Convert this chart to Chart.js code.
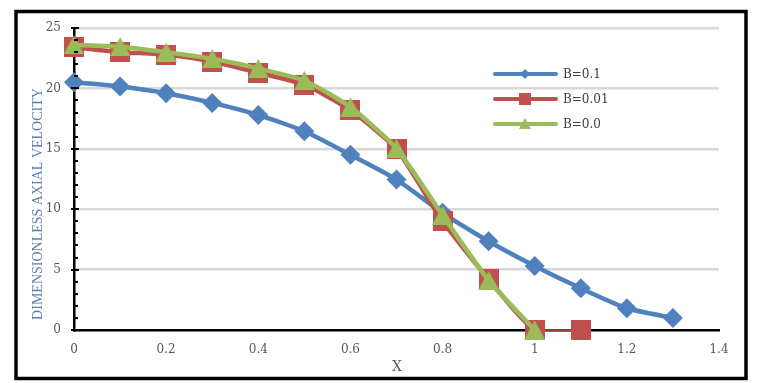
<!DOCTYPE html>
<html>
<head>
<meta charset="utf-8">
<script src="https://cdn.jsdelivr.net/npm/chart.js@4/dist/chart.umd.min.js"></script>
<style>
html,body{margin:0;padding:0;background:#fff;}
#wrap{width:760px;height:383px;position:relative;}
</style>
</head>
<body>
<div id="wrap"><canvas id="c" width="760" height="383"></canvas></div>
<script>
const xValues   = [0, 0.1, 0.2, 0.3, 0.4, 0.5, 0.6, 0.7, 0.8, 0.9, 1.0, 1.1, 1.2, 1.3];
const seriesB01  = [20.5, 20.15, 19.6, 18.8, 17.8, 16.45, 14.5, 12.45, 9.7, 7.35, 5.3, 3.45, 1.8, 1.0];
const seriesB001 = [23.4, 23.0, 22.8, 22.2, 21.3, 20.3, 18.2, 14.95, 9.0, 4.2, 0.0, 0.0];
const seriesB00  = [23.6, 23.45, 23.0, 22.45, 21.65, 20.65, 18.45, 15.0, 9.5, 4.1, 0.0];
const seriesNames = ["B=0.1", "B=0.01", "B=0.0"];
const xTicks = [0, 0.2, 0.4, 0.6, 0.8, 1, 1.2, 1.4];
const yTicks = [0, 5, 10, 15, 20, 25];
const xTitle = "X";
const yTitle = "DIMENSIONLESS AXIAL VELOCITY";

const BLUE = "#4f81bd", RED = "#c0504d", GREEN = "#9bbb59";
const toPts = arr => arr.map((v, i) => ({x: xValues[i], y: v}));

function triangleMarker(w, h, color) {
  const c = document.createElement("canvas");
  c.width = w; c.height = h;
  const g = c.getContext("2d");
  g.fillStyle = color;
  g.beginPath(); g.moveTo(w / 2, 0); g.lineTo(w, h); g.lineTo(0, h); g.closePath(); g.fill();
  return c;
}
function squareMarker(s, color) {
  const c = document.createElement("canvas");
  c.width = s; c.height = s;
  const g = c.getContext("2d");
  g.fillStyle = color; g.fillRect(0, 0, s, s);
  return c;
}
const triMarker = triangleMarker(21, 19, GREEN);
const sqMarker = squareMarker(20, RED);

const frame = {
  id: "frame",
  beforeDraw(chart) {
    const ctx = chart.ctx;
    ctx.save();
    ctx.fillStyle = "#fff";
    ctx.fillRect(0, 0, chart.width, chart.height);
    ctx.strokeStyle = "#000";
    ctx.lineWidth = 3.5;
    ctx.strokeRect(16, 11.5, 730, 367);
    ctx.restore();
  },
  afterDraw(chart) {
    const ctx = chart.ctx;
    const y = chart.scales.y, x = chart.scales.x;
    ctx.save();
    ctx.strokeStyle = "#000";
    ctx.lineWidth = 2;
    const ax = x.getPixelForValue(0);
    for (let v = 0; v <= 25; v++) {
      const py = Math.round(y.getPixelForValue(v));
      ctx.beginPath();
      if (v % 5 === 0) { ctx.moveTo(ax - 3, py); ctx.lineTo(ax + 5, py); }
      else { ctx.moveTo(ax, py); ctx.lineTo(ax + 4, py); }
      ctx.stroke();
    }
    ctx.fillStyle = "#5b80b0";
    ctx.font = "14px 'Liberation Serif', serif";
    ctx.textAlign = "center";
    ctx.textBaseline = "middle";
    ctx.translate(38, 204);
    ctx.rotate(-Math.PI / 2);
    ctx.fillText(yTitle, 0, 0);
    ctx.restore();

    ctx.save();
    ctx.fillStyle = "#595959";
    ctx.font = "14px 'DejaVu Serif', serif";
    ctx.textAlign = "center";
    ctx.textBaseline = "middle";
    ctx.fillText(xTitle, 397, 367);
    ctx.restore();

    ctx.save();
    const rows = [74, 99, 124];
    chart.data.datasets.forEach((ds, i) => {
      const yy = rows[i];
      ctx.strokeStyle = ds.borderColor;
      ctx.lineWidth = 4;
      ctx.lineCap = "round";
      ctx.beginPath(); ctx.moveTo(495, yy); ctx.lineTo(556, yy); ctx.stroke();
      ctx.fillStyle = ds.backgroundColor;
      const cx = 525;
      ctx.beginPath();
      if (i === 0) { ctx.moveTo(cx, yy - 5); ctx.lineTo(cx + 5, yy); ctx.lineTo(cx, yy + 5); ctx.lineTo(cx - 5, yy); }
      else if (i === 1) { ctx.rect(cx - 6, yy - 6, 12, 12); }
      else { ctx.moveTo(cx, yy - 6); ctx.lineTo(cx + 6, yy + 5); ctx.lineTo(cx - 6, yy + 5); }
      ctx.closePath(); ctx.fill();
      ctx.fillStyle = "#404040";
      ctx.font = "12px 'DejaVu Serif', serif";
      ctx.textAlign = "left";
      ctx.textBaseline = "middle";
      ctx.fillText(ds.label, 563, yy + 1);
    });
    ctx.restore();
  }
};

new Chart(document.getElementById("c"), {
  type: "line",
  data: {
    datasets: [
      {label: seriesNames[0], data: toPts(seriesB01), borderColor: BLUE, backgroundColor: BLUE, order: 2, clip: false,
       borderWidth: 4.5, pointStyle: "rectRot", pointRadius: 10, pointBorderWidth: 0, tension: 0.2},
      {label: seriesNames[1], data: toPts(seriesB001), borderColor: RED, backgroundColor: RED, order: 1, clip: false,
       borderWidth: 4.5, pointStyle: sqMarker, pointRadius: 10, pointBorderWidth: 0, tension: 0.2,
       segment: {borderWidth: c => c.p0DataIndex >= 10 ? 1.5 : 4.5}},
      {label: seriesNames[2], data: toPts(seriesB00), borderColor: GREEN, backgroundColor: GREEN, order: 0, clip: false,
       borderWidth: 4.5, pointStyle: triMarker, pointRadius: 10, pointBorderWidth: 0, tension: 0.2}
    ]
  },
  options: {
    responsive: false,
    animation: false,
    devicePixelRatio: 1,
    layout: {padding: {left: 0, right: 41, top: 28, bottom: 0}},
    plugins: {legend: {display: false}, tooltip: {enabled: false}},
    scales: {
      x: {
        type: "linear", min: 0, max: 1.4,
        afterBuildTicks: s => { s.ticks = xTicks.map(v => ({value: v})); },
        afterFit: s => { s.height = 53; },
        grid: {display: false, drawTicks: false},
        border: {display: true, color: "#000", width: 2.5, dash: [7, 4, 2, 4]},
        ticks: {color: "#595959", font: {family: "'DejaVu Serif', serif", size: 12}, padding: 13,
                callback: v => String(v)}
      },
      y: {
        min: 0, max: 25,
        afterBuildTicks: s => { s.ticks = yTicks.map(v => ({value: v})); },
        afterFit: s => { s.width = 74; },
        grid: {color: "#d9d9d9", lineWidth: 2.5, drawTicks: false},
        border: {display: true, color: "#000", width: 2.5},
        ticks: {color: "#595959", font: {family: "'DejaVu Serif', serif", size: 12}, padding: 13}
      }
    }
  },
  plugins: [frame]
});
</script>
</body>
</html>
